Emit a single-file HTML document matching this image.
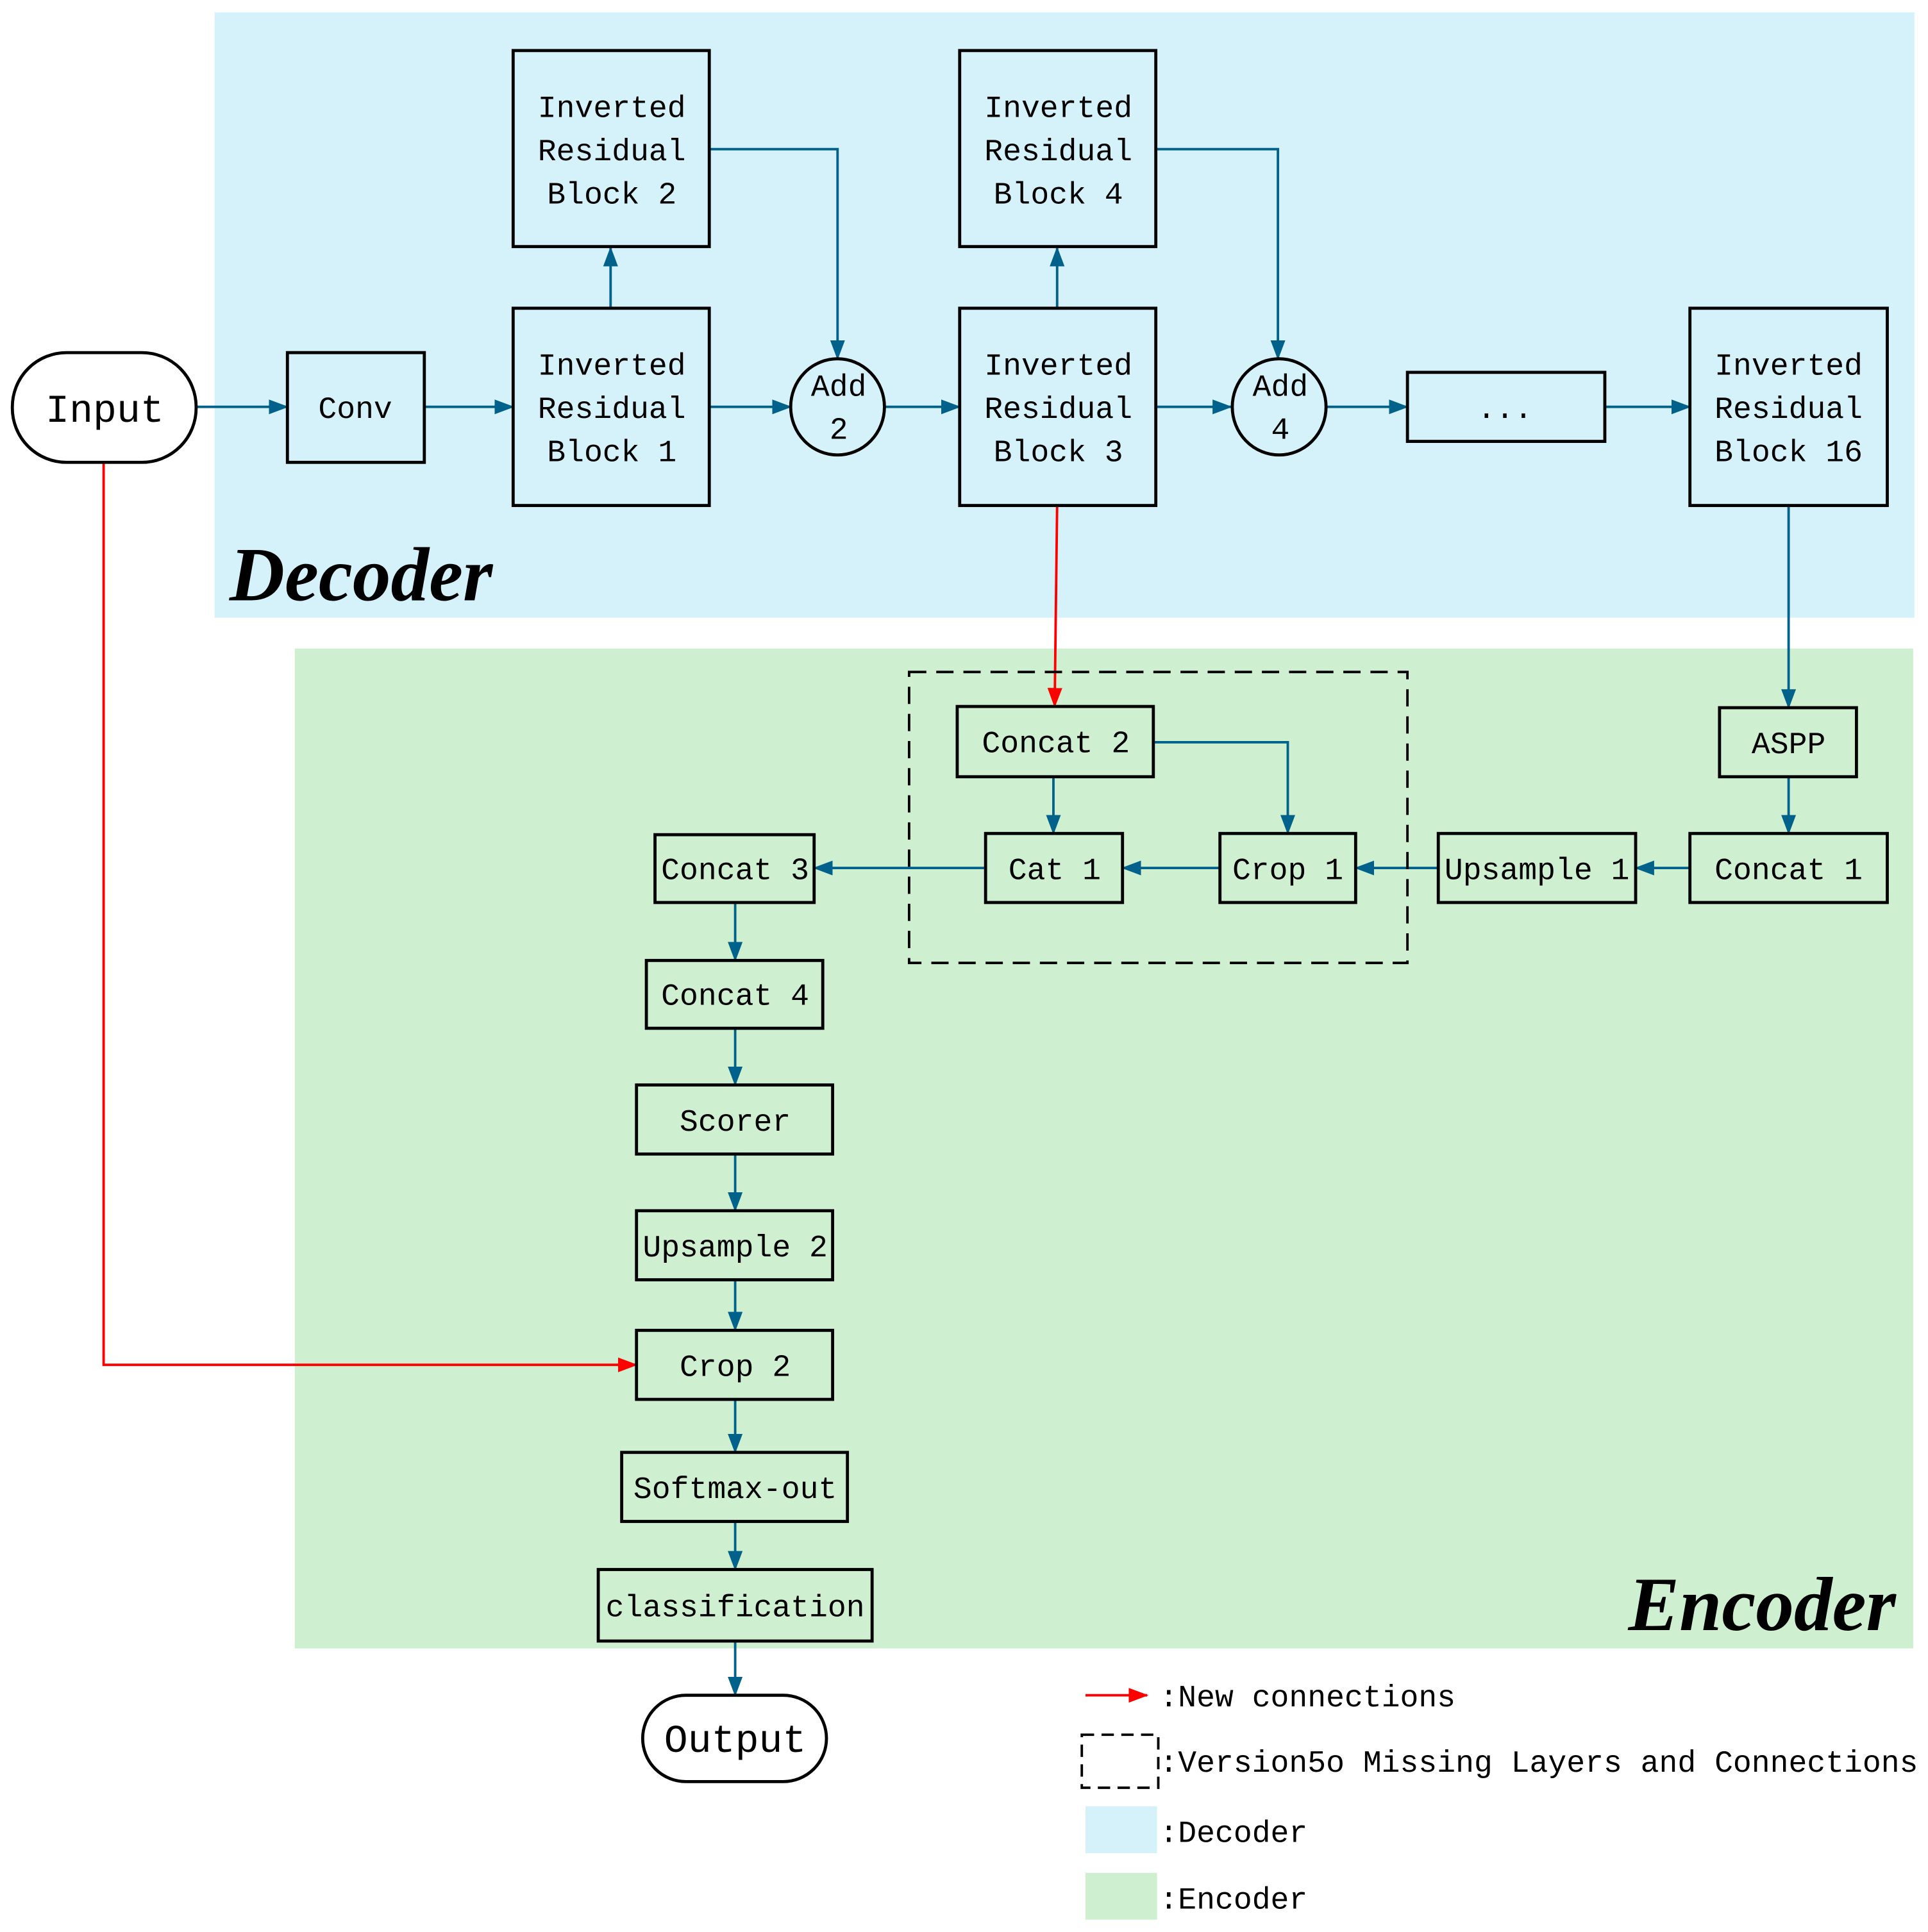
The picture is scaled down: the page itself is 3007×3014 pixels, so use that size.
<!DOCTYPE html>
<html><head><meta charset="utf-8"><style>
html,body{margin:0;padding:0;background:#fff;}
svg{display:block;}
text{font-family:"Liberation Mono",monospace;font-size:25px;fill:#000;}
.t{text-anchor:middle;}
.b{fill:none;stroke:#000;stroke-width:2.5;}
.l{fill:none;stroke:#00628a;stroke-width:2;}
.r{fill:none;stroke:#ff0000;stroke-width:2;}
.big{font-family:"Liberation Serif",serif;font-style:italic;font-weight:bold;font-size:62px;}
</style></head><body>
<svg width="3007" height="3014" viewBox="0 0 1563 1567" preserveAspectRatio="none" xmlns="http://www.w3.org/2000/svg">
<defs>
<marker id="a" markerWidth="16" markerHeight="12" refX="15" refY="6" orient="auto" markerUnits="userSpaceOnUse"><path d="M0,0 L16,6 L0,12 z" fill="#00628a"/></marker>
<marker id="ar" markerWidth="16" markerHeight="12" refX="15" refY="6" orient="auto" markerUnits="userSpaceOnUse"><path d="M0,0 L16,6 L0,12 z" fill="#ff0000"/></marker>
</defs>
<rect x="174" y="10" width="1378" height="491" fill="#d5f2fa"/>
<rect x="239" y="526" width="1312" height="811" fill="#cff0d0"/>
<text class="big" x="186" y="487">Decoder</text>
<text class="big" x="1537" y="1322" text-anchor="end">Encoder</text>

<!-- connectors -->
<path class="l" d="M159,330 H233" marker-end="url(#a)"/>
<path class="l" d="M344,330 H416" marker-end="url(#a)"/>
<path class="l" d="M495,250 V201" marker-end="url(#a)"/>
<path class="l" d="M575,121 H679 V291" marker-end="url(#a)"/>
<path class="l" d="M575,330 H641" marker-end="url(#a)"/>
<path class="l" d="M717,330 H778" marker-end="url(#a)"/>
<path class="l" d="M857,250 V201" marker-end="url(#a)"/>
<path class="l" d="M937,121 H1036 V291" marker-end="url(#a)"/>
<path class="l" d="M937,330 H998" marker-end="url(#a)"/>
<path class="l" d="M1075,330 H1141" marker-end="url(#a)"/>
<path class="l" d="M1301,330 H1370" marker-end="url(#a)"/>
<path class="l" d="M1450,410 V574" marker-end="url(#a)"/>
<path class="l" d="M1450,630 V676" marker-end="url(#a)"/>
<path class="l" d="M1370,704 H1326" marker-end="url(#a)"/>
<path class="l" d="M1166,704 H1099" marker-end="url(#a)"/>
<path class="l" d="M989,704 H910" marker-end="url(#a)"/>
<path class="l" d="M799,704 H660" marker-end="url(#a)"/>
<path class="l" d="M854,630 V676" marker-end="url(#a)"/>
<path class="l" d="M935,602 H1044 V676" marker-end="url(#a)"/>
<path class="l" d="M596,732 V779" marker-end="url(#a)"/>
<path class="l" d="M596,834 V880" marker-end="url(#a)"/>
<path class="l" d="M596,936 V982" marker-end="url(#a)"/>
<path class="l" d="M596,1038 V1079" marker-end="url(#a)"/>
<path class="l" d="M596,1135 V1178" marker-end="url(#a)"/>
<path class="l" d="M596,1234 V1273" marker-end="url(#a)"/>
<path class="l" d="M596,1331 V1375" marker-end="url(#a)"/>
<path class="r" d="M857,410 L855,573" marker-end="url(#ar)"/>
<path class="r" d="M84,375 V1107 H516" marker-end="url(#ar)"/>

<!-- boxes -->
<rect class="b" x="10" y="286" width="149" height="89" rx="44" fill="#fff"/>
<text class="t" x="85" y="342" style="font-size:32px">Input</text>
<rect class="b" x="233" y="286" width="111" height="89"/>
<text class="t" x="288" y="339">Conv</text>
<rect class="b" x="416" y="250" width="159" height="160"/>
<text class="t" x="496" y="304">Inverted</text><text class="t" x="496" y="339">Residual</text><text class="t" x="496" y="374">Block 1</text>
<rect class="b" x="416" y="41" width="159" height="159"/>
<text class="t" x="496" y="95">Inverted</text><text class="t" x="496" y="130">Residual</text><text class="t" x="496" y="165">Block 2</text>
<ellipse class="b" cx="679" cy="330" rx="38" ry="39"/>
<text class="t" x="680" y="321">Add</text><text class="t" x="680" y="356">2</text>
<rect class="b" x="778" y="250" width="159" height="160"/>
<text class="t" x="858" y="304">Inverted</text><text class="t" x="858" y="339">Residual</text><text class="t" x="858" y="374">Block 3</text>
<rect class="b" x="778" y="41" width="159" height="159"/>
<text class="t" x="858" y="95">Inverted</text><text class="t" x="858" y="130">Residual</text><text class="t" x="858" y="165">Block 4</text>
<ellipse class="b" cx="1037" cy="330" rx="38" ry="39"/>
<text class="t" x="1038" y="321">Add</text><text class="t" x="1038" y="356">4</text>
<rect class="b" x="1141" y="302" width="160" height="56"/>
<text class="t" x="1220" y="339">...</text>
<rect class="b" x="1370" y="250" width="160" height="160"/>
<text class="t" x="1450" y="304">Inverted</text><text class="t" x="1450" y="339">Residual</text><text class="t" x="1450" y="374">Block 16</text>

<rect x="737" y="545" width="404" height="236" fill="none" stroke="#000" stroke-width="2" stroke-dasharray="14,8"/>
<rect class="b" x="776" y="573" width="159" height="57"/><text class="t" x="856" y="610">Concat 2</text>
<rect class="b" x="1394" y="574" width="111" height="56"/><text class="t" x="1450" y="611">ASPP</text>
<rect class="b" x="1370" y="676" width="160" height="56"/><text class="t" x="1450" y="713">Concat 1</text>
<rect class="b" x="1166" y="676" width="160" height="56"/><text class="t" x="1246" y="713">Upsample 1</text>
<rect class="b" x="989" y="676" width="110" height="56"/><text class="t" x="1044" y="713">Crop 1</text>
<rect class="b" x="799" y="676" width="111" height="56"/><text class="t" x="855" y="713">Cat 1</text>
<rect class="b" x="531" y="677" width="129" height="55"/><text class="t" x="596" y="713">Concat 3</text>
<rect class="b" x="524" y="779" width="143" height="55"/><text class="t" x="596" y="815">Concat 4</text>
<rect class="b" x="516" y="880" width="159" height="56"/><text class="t" x="596" y="917">Scorer</text>
<rect class="b" x="516" y="982" width="159" height="56"/><text class="t" x="596" y="1019">Upsample 2</text>
<rect class="b" x="516" y="1079" width="159" height="56"/><text class="t" x="596" y="1116">Crop 2</text>
<rect class="b" x="504" y="1178" width="183" height="56"/><text class="t" x="596" y="1215">Softmax-out</text>
<rect class="b" x="485" y="1273" width="222" height="58"/><text class="t" x="596" y="1311">classification</text>
<rect class="b" x="521" y="1375" width="149" height="70" rx="35" fill="#fff"/>
<text class="t" x="596" y="1421" style="font-size:32px">Output</text>

<!-- legend -->
<path class="r" d="M880,1375 H930" marker-end="url(#ar)"/>
<text x="940" y="1384">:New connections</text>
<rect x="877" y="1407" width="62" height="43" fill="none" stroke="#000" stroke-width="2" stroke-dasharray="10,6"/>
<text x="940" y="1437">:Version5o Missing Layers and Connections</text>
<rect x="880" y="1465" width="58" height="38" fill="#d5f2fa"/>
<text x="940" y="1494">:Decoder</text>
<rect x="880" y="1519" width="58" height="38" fill="#cff0d0"/>
<text x="940" y="1548">:Encoder</text>
</svg>
</body></html>
